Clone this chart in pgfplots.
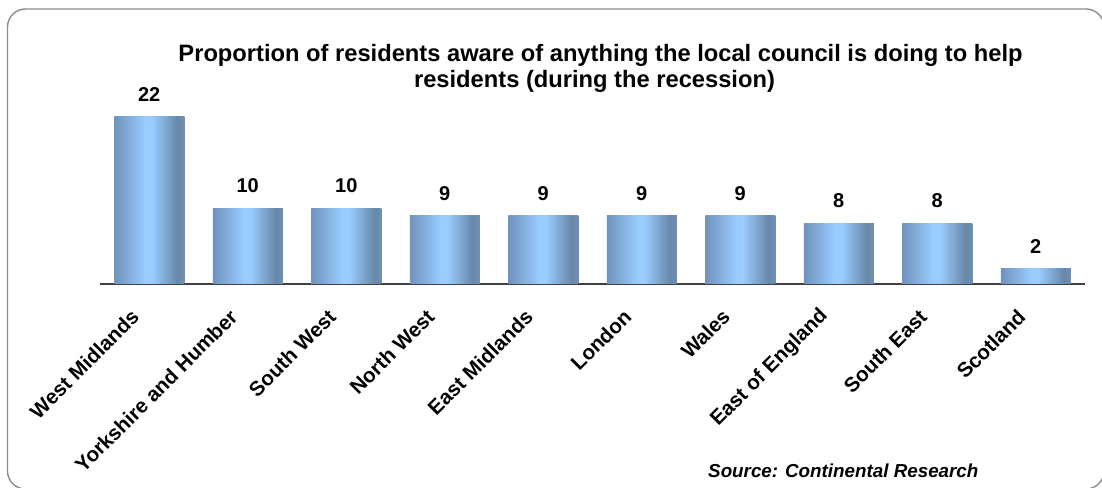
\documentclass[border=0pt]{standalone}
\usepackage{fontspec}
\setmainfont{Liberation Sans}
\usepackage{pgfplots}
\pgfplotsset{compat=1.18}
\definecolor{barL}{RGB}{112,146,188}
\definecolor{barM}{RGB}{153,204,255}
\definecolor{barR}{RGB}{104,136,170}
\definecolor{barE}{RGB}{112,144,180}
\pgfdeclarehorizontalshading{barshade}{100bp}{color(0bp)=(barL); color(25bp)=(barL); color(47bp)=(barM); color(52bp)=(barM); color(70bp)=(barR); color(75bp)=(barE); color(100bp)=(barE)}
\begin{document}
\begin{tikzpicture}[x=1pt,y=1pt]
\useasboundingbox (0,0) rectangle (1102,487);
\draw[line width=1.4pt, color=gray!90, rounded corners=18pt] (7.5,478) rectangle (1104,-2);
\node[anchor=base, font=\bfseries\fontsize{23.7}{28}\selectfont, inner sep=0] at (600.5,425) {Proportion of residents aware of anything the local council is doing to help};
\node[anchor=base, font=\bfseries\fontsize{23.7}{28}\selectfont, inner sep=0] at (594.5,399) {residents (during the recession)};
\node[anchor=base west, font=\bfseries\itshape\fontsize{18.8}{22}\selectfont, inner sep=0] at (708,10) {Source: Continental Research};
\begin{axis}[
  at={(100pt,203pt)}, anchor=south west,
  scale only axis, width=985pt, height=167pt,
  xmin=-0.5, xmax=9.5, ymin=0, ymax=22,
  clip=false,
  axis y line=none,
  axis x line*=bottom,
  x axis line style={line width=1.2pt, color=black!75, -},
  xtick={0,...,9},
  xticklabels={West Midlands, Yorkshire and Humber, South West, North West, East Midlands, London, Wales, East of England, South East, Scotland},
  major tick length=0pt,
  xticklabel style={xshift=-14pt, yshift=-29pt, rotate=45, anchor=east, inner sep=0pt, font=\bfseries\fontsize{20.6}{24}\selectfont},
  ybar, bar width=70pt, bar shift=0pt,
  nodes near coords={\pgfmathprintnumber[assume math mode=true]{\pgfplotspointmeta}},
  every node near coord/.append style={anchor=south, inner sep=0pt, yshift=15pt, font=\bfseries\fontsize{20}{24}\selectfont, color=black},
  every axis plot/.append style={draw=none, shading=barshade},
]
\addplot coordinates {(0,22)};
\addplot coordinates {(1,10)};
\addplot coordinates {(2,10)};
\addplot coordinates {(3,9)};
\addplot coordinates {(4,9)};
\addplot coordinates {(5,9)};
\addplot coordinates {(6,9)};
\addplot coordinates {(7,8)};
\addplot coordinates {(8,8)};
\addplot coordinates {(9,2)};
\end{axis}
\end{tikzpicture}
\end{document}
